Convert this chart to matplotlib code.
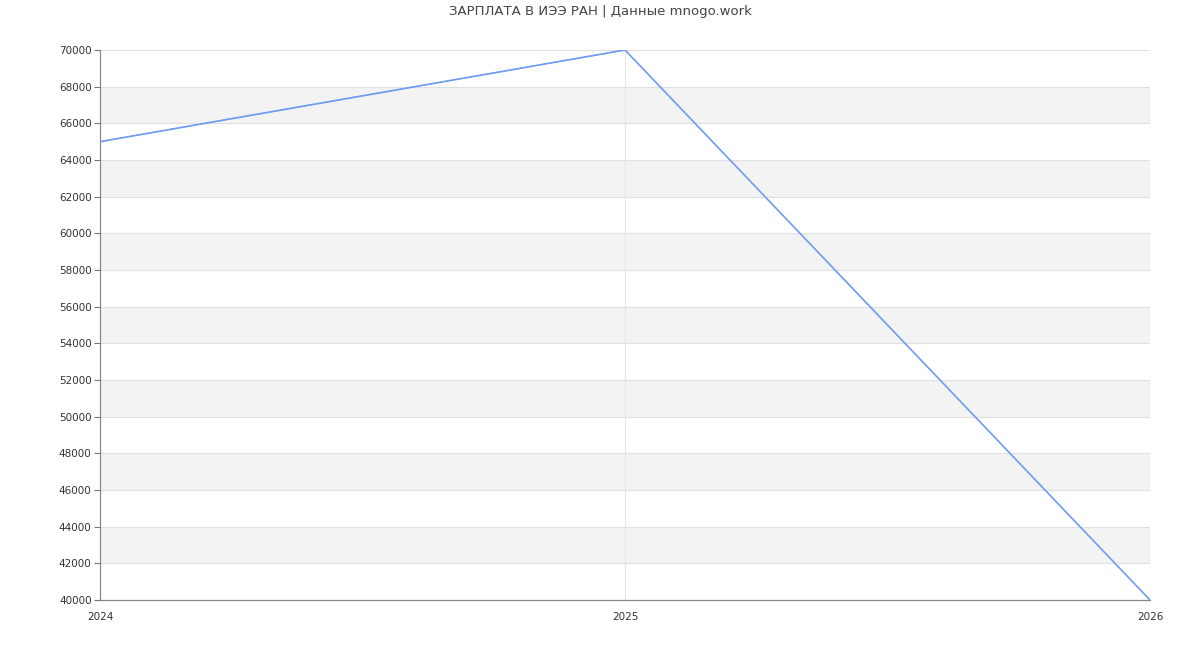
import matplotlib
matplotlib.use("Agg")
import matplotlib.pyplot as plt

title = "ЗАРПЛАТА В ИЭЭ РАН | Данные mnogo.work"
years = [2024, 2025, 2026]
salary = [65000, 70000, 40000]
y_ticks = list(range(40000, 70001, 2000))

fig = plt.figure(figsize=(12, 6.5), dpi=100)
ax = fig.add_axes([100/1200, 50/650, 1050/1200, 550/650])

ax.set_xlim(years[0], years[-1])
ax.set_ylim(y_ticks[0], y_ticks[-1])

# alternating bands
for i in range(len(y_ticks) - 1):
    if i % 2 == 1:
        ax.axhspan(y_ticks[i], y_ticks[i + 1], color="#f3f3f3", zorder=0, lw=0)
for t in y_ticks[1:]:
    ax.axhline(t, color="#e0e0e0", lw=0.8, zorder=1)
for x in years[1:]:
    ax.axvline(x, color="#e6e6e6", lw=0.8, zorder=1)

ax.plot(years, salary, color="#6d9cf0", lw=1.2, zorder=3)
ax.plot(years[:2], salary[:2], color="#6d9cf0", lw=0.6, zorder=3)

ax.set_yticks(y_ticks)
ax.set_yticklabels([str(t) for t in y_ticks])
ax.set_xticks(years)
ax.set_xticklabels([str(y) for y in years])

ax.tick_params(axis="y", labelsize=7.5, colors="#333333", length=4, width=0.8, color="#777777", pad=2)
ax.tick_params(axis="x", labelsize=7.5, colors="#333333", length=0, pad=9)

for s in ["top", "right"]:
    ax.spines[s].set_visible(False)
ax.spines["left"].set_color("#888888")
ax.spines["bottom"].set_color("#888888")
ax.spines["left"].set_linewidth(0.9)
ax.spines["bottom"].set_linewidth(0.9)

fig.text(0.5, 1 - 12/650, title, ha="center", va="center", fontsize=9.5, color="#444444")

fig.savefig("out.png", dpi=100)
